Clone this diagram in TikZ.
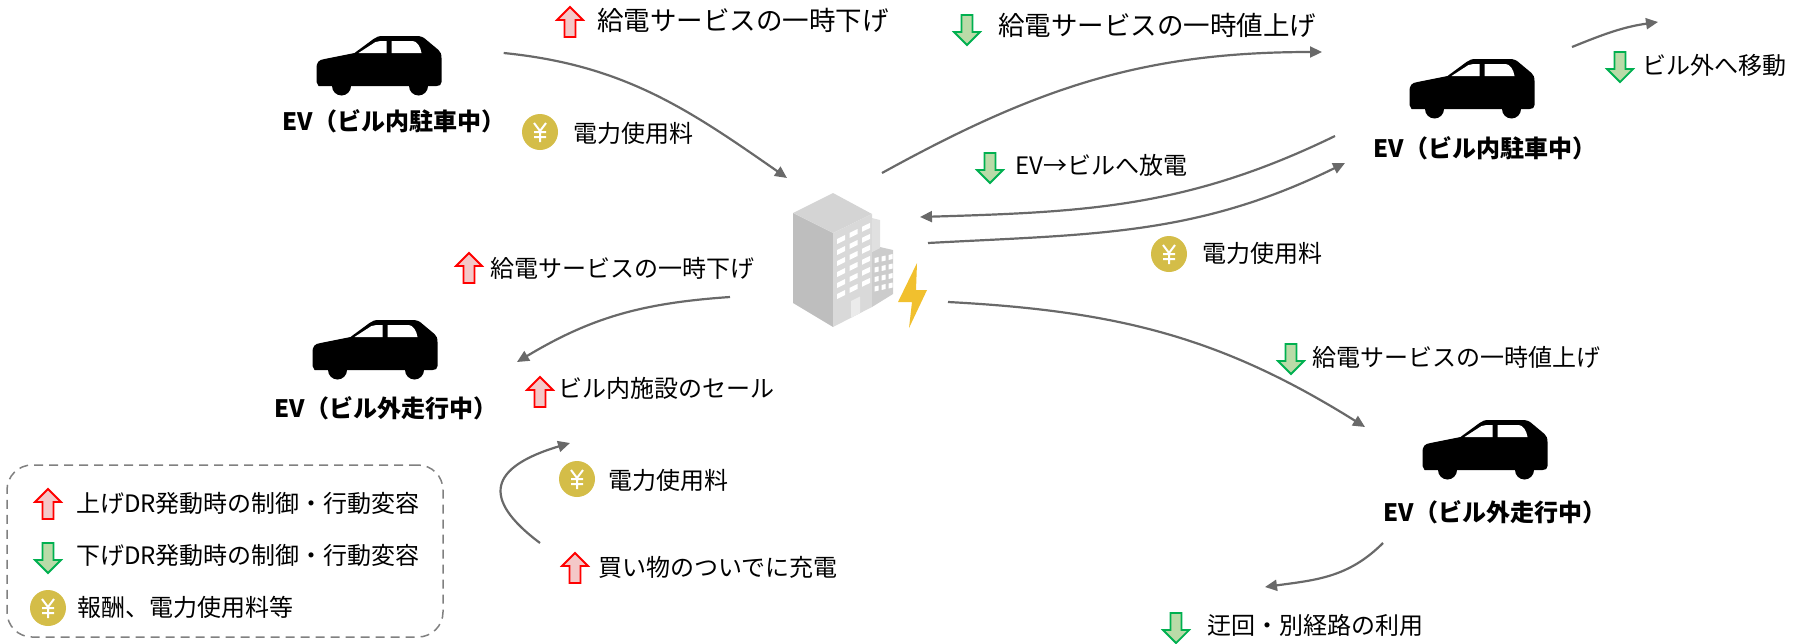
\documentclass[tikz,border=0pt]{standalone}
\usepackage{fontspec}
\setmainfont{Noto Sans CJK JP}
\usepackage{tikz}
\usetikzlibrary{arrows.meta,positioning,calc}
\definecolor{linegray}{RGB}{105,105,105}
\definecolor{uppink}{RGB}{244,200,200}
\definecolor{downgreen}{RGB}{186,219,168}
\definecolor{markgreen}{RGB}{0,176,80}
\definecolor{coingold}{RGB}{212,189,72}
\definecolor{boltyellow}{RGB}{241,192,46}
\definecolor{bldgtop}{RGB}{212,212,212}
\definecolor{bldgleft}{RGB}{190,190,190}
\definecolor{bldgright}{RGB}{217,217,217}
\definecolor{annexgray}{RGB}{204,204,204}

\begin{document}
\begin{tikzpicture}[
  x=1pt,y=-1pt,
  lbl/.style={anchor=west,inner sep=0pt,font=\fontsize{24}{28}\selectfont},
  toplbl/.style={lbl,font=\fontsize{26.5}{30}\selectfont},
  evlbl/.style={inner sep=0pt,font=\fontsize{24}{28}\selectfont\bfseries},
  carbox/.style={minimum width=125pt,minimum height=62pt,inner sep=0pt},
  legendbox/.style={draw=gray,line width=1.5pt,dash pattern=on 9pt off 6pt,
    rounded corners=25pt,minimum width=436pt,minimum height=172pt},
  arrow/.style={-{Triangle[length=12pt,width=11pt]},line width=2.2pt,draw=linegray},
  upmark/.pic={\draw[red,fill=uppink,line width=1.8pt]
    (-5.5,15)--(-5.5,-2)--(-13,-2)--(0,-15)--(13,-2)--(5.5,-2)--(5.5,15)--cycle;},
  downmark/.pic={\draw[markgreen,fill=downgreen,line width=1.8pt]
    (-5.5,-15)--(-5.5,2)--(-13,2)--(0,15)--(13,2)--(5.5,2)--(5.5,-15)--cycle;},
  coin/.pic={\fill[coingold] (0,0) circle (18);
    \draw[white,line width=2pt] (-6,-9)--(0,-1)--(6,-9) (0,-1)--(0,10)
      (-6,0)--(6,0) (-6,5)--(6,5);},
  car/.pic={
    \begin{scope}[shift={(-62.5,-31)}]
    \fill (2,53) -- (0,49) -- (0,36) .. controls (0,29) and (2,27) .. (8,26)
      -- (38,20) -- (57,6) .. controls (60,4) and (62,3) .. (66,3) -- (100,3)
      .. controls (104,3) and (107,4) .. (110,7) -- (122,17)
      .. controls (124,19) and (125,21) .. (125,25) -- (125,49)
      .. controls (125,52) and (123,53) .. (120,53) -- cycle;
    \fill (25,53) circle (9.5) (102,53) circle (9.5);
    \fill[white] (42,20) -- (59,9) .. controls (61,8) and (62,8) .. (64,8)
      -- (70,8) -- (70,20) -- cycle;
    \fill[white] (75,8) -- (96,8) .. controls (100,8) and (104,13) .. (105,20)
      -- (75,20) -- cycle;
    \end{scope}}
]
\useasboundingbox (0,0) rectangle (1799,643);

% building with the bolt
\node[minimum width=100pt,minimum height=135pt,inner sep=0pt] (bldg) at (843,260) {};
\begin{scope}[shift={(bldg.center)}]
  \fill[bldgleft] (-50,-47) -- (-10,-27) -- (-10,67) -- (-50,43) -- cycle;
  \fill[bldgtop] (-50,-47) -- (-10,-67) -- (29,-46) -- (-10,-27) -- cycle;
  \fill[bldgright] (-10,-27) -- (29,-46) -- (29,47) -- (-10,67) -- cycle;
  \foreach \i in {0,1,2}
    \foreach \j in {0,...,5}
      \fill[white] ({-6+12.5*\i},{-21+11*\j-6.1*\i}) -- ++(8,-3.9) -- ++(0,5) -- ++(-8,3.9) -- cycle;
  \fill[white!92!black] (8,41) -- (17,36.6) -- (17,53.1) -- (8,57.8) -- cycle;
  \fill[annexgray] (29,-8) -- (37,-13) -- (50,-10) -- (50,34) -- (29,47) -- cycle;
  \foreach \i in {0,1,2}
    \foreach \j in {0,...,3}
      \fill[white] ({31.5+7*\i},{-2+9.5*\j-1.5*\i}) -- ++(4,-1) -- ++(0,5) -- ++(-4,1) -- cycle;
  \fill[white!88!black] (29,-42) -- (37,-40) -- (37,-12) -- (29,-8) -- cycle;
  \fill[boltyellow] (74,3) -- (73,30) -- (84,30) -- (66,68) -- (69,42) -- (55,42) -- cycle;
\end{scope}

% cars
\node[carbox] (evA) at (379,64) {};
\node[carbox] (evB) at (1472,87) {};
\node[carbox] (evC) at (375,348) {};
\node[carbox] (evD) at (1485,448) {};
\pic at (evA.center) {car};
\pic at (evB.center) {car};
\pic at (evC.center) {car};
\pic at (evD.center) {car};
\node[evlbl] (evAlbl) at (394,121) {EV（ビル内駐車中）};
\node[evlbl] (evBlbl) at (1485,148) {EV（ビル内駐車中）};
\node[evlbl] (evClbl) at (386,408) {EV（ビル外走行中）};
\node[evlbl] (evDlbl) at (1495,512) {EV（ビル外走行中）};

% labels
\pic at (570,22) {upmark};
\node[toplbl] (cutA) at (597,20) {給電サービスの一時下げ};
\pic at (540,132) {coin};
\node[lbl] (feeA) at (573,133) {電力使用料};
\pic at (967,30) {downmark};
\node[toplbl] (raiseB) at (998,25) {給電サービスの一時値上げ};
\pic at (1620,67) {downmark};
\node[lbl] (leaveB) at (1642,65) {ビル外へ移動};
\pic at (990,168) {downmark};
\node[lbl] (dischB) at (1015,165) {EV→ビルへ放電};
\pic at (1169,254) {coin};
\node[lbl] (feeB) at (1202,253) {電力使用料};
\pic at (1291,359) {downmark};
\node[lbl] (raiseD) at (1312,357) {給電サービスの一時値上げ};
\pic at (1176,628) {downmark};
\node[lbl] (detourD) at (1207,625) {迂回・別経路の利用};
\pic at (469,268) {upmark};
\node[lbl] (cutC) at (490,268) {給電サービスの一時下げ};
\pic at (540,392) {upmark};
\node[lbl] (saleC) at (558,388) {ビル内施設のセール};
\pic at (577,479) {coin};
\node[lbl] (feeC) at (608,480) {電力使用料};
\pic at (575,568) {upmark};
\node[lbl] (shopC) at (598,567) {買い物のついでに充電};

% connectors
\coordinate (away) at (1658,22);
\coordinate (detour) at (1265,587);
\coordinate (shopFrom) at (540,543);
\coordinate (shopTo) at (570,443);
\draw[arrow] ($(evA.east)+(62,-11)$) .. controls +(120,12) and +(-99,-69) .. ($(bldg.center)+(-56,-82)$);
\draw[arrow] ($(bldg.center)+(39,-87)$) .. controls +(156,-86) and +(-178,0) .. ($(evB.center)+(-150,-35)$);
\draw[arrow] ($(evB.center)+(100,-40)$) .. controls +(32,-13) and +(-35,5) .. (away);
\draw[arrow] ($(evB.center)+(-137,49)$) .. controls +(-148,72) and +(165,-5) .. ($(bldg.center)+(77,-43)$);
\draw[arrow] ($(bldg.center)+(85,-17)$) .. controls +(166,-9) and +(-149,73) .. ($(evB.center)+(-127,76)$);
\draw[arrow] ($(bldg.center)+(105,42)$) .. controls +(170,9) and +(-144,-90) .. ($(evD.center)+(-120,-21)$);
\draw[arrow] ($(evD.center)+(-102,95)$) .. controls +(-35,35) and +(50,-7) .. (detour);
\draw[arrow] ($(bldg.center)+(-113,37)$) .. controls +(-87,6) and +(75,-45) .. ($(evC.center)+(142,14)$);
\draw[arrow] (shopFrom) .. controls +(-60,-45) and +(-80,24) .. (shopTo);

% legend
\node[legendbox] (legend) at (225,551) {};
\pic at (48,504) {upmark};
\node[lbl] (legUp) at (76,503) {上げDR発動時の制御・行動変容};
\pic at (48,558) {downmark};
\node[lbl] (legDown) at (76,555) {下げDR発動時の制御・行動変容};
\pic at (48,608) {coin};
\node[lbl] (legFee) at (77,607) {報酬、電力使用料等};
\end{tikzpicture}
\end{document}
